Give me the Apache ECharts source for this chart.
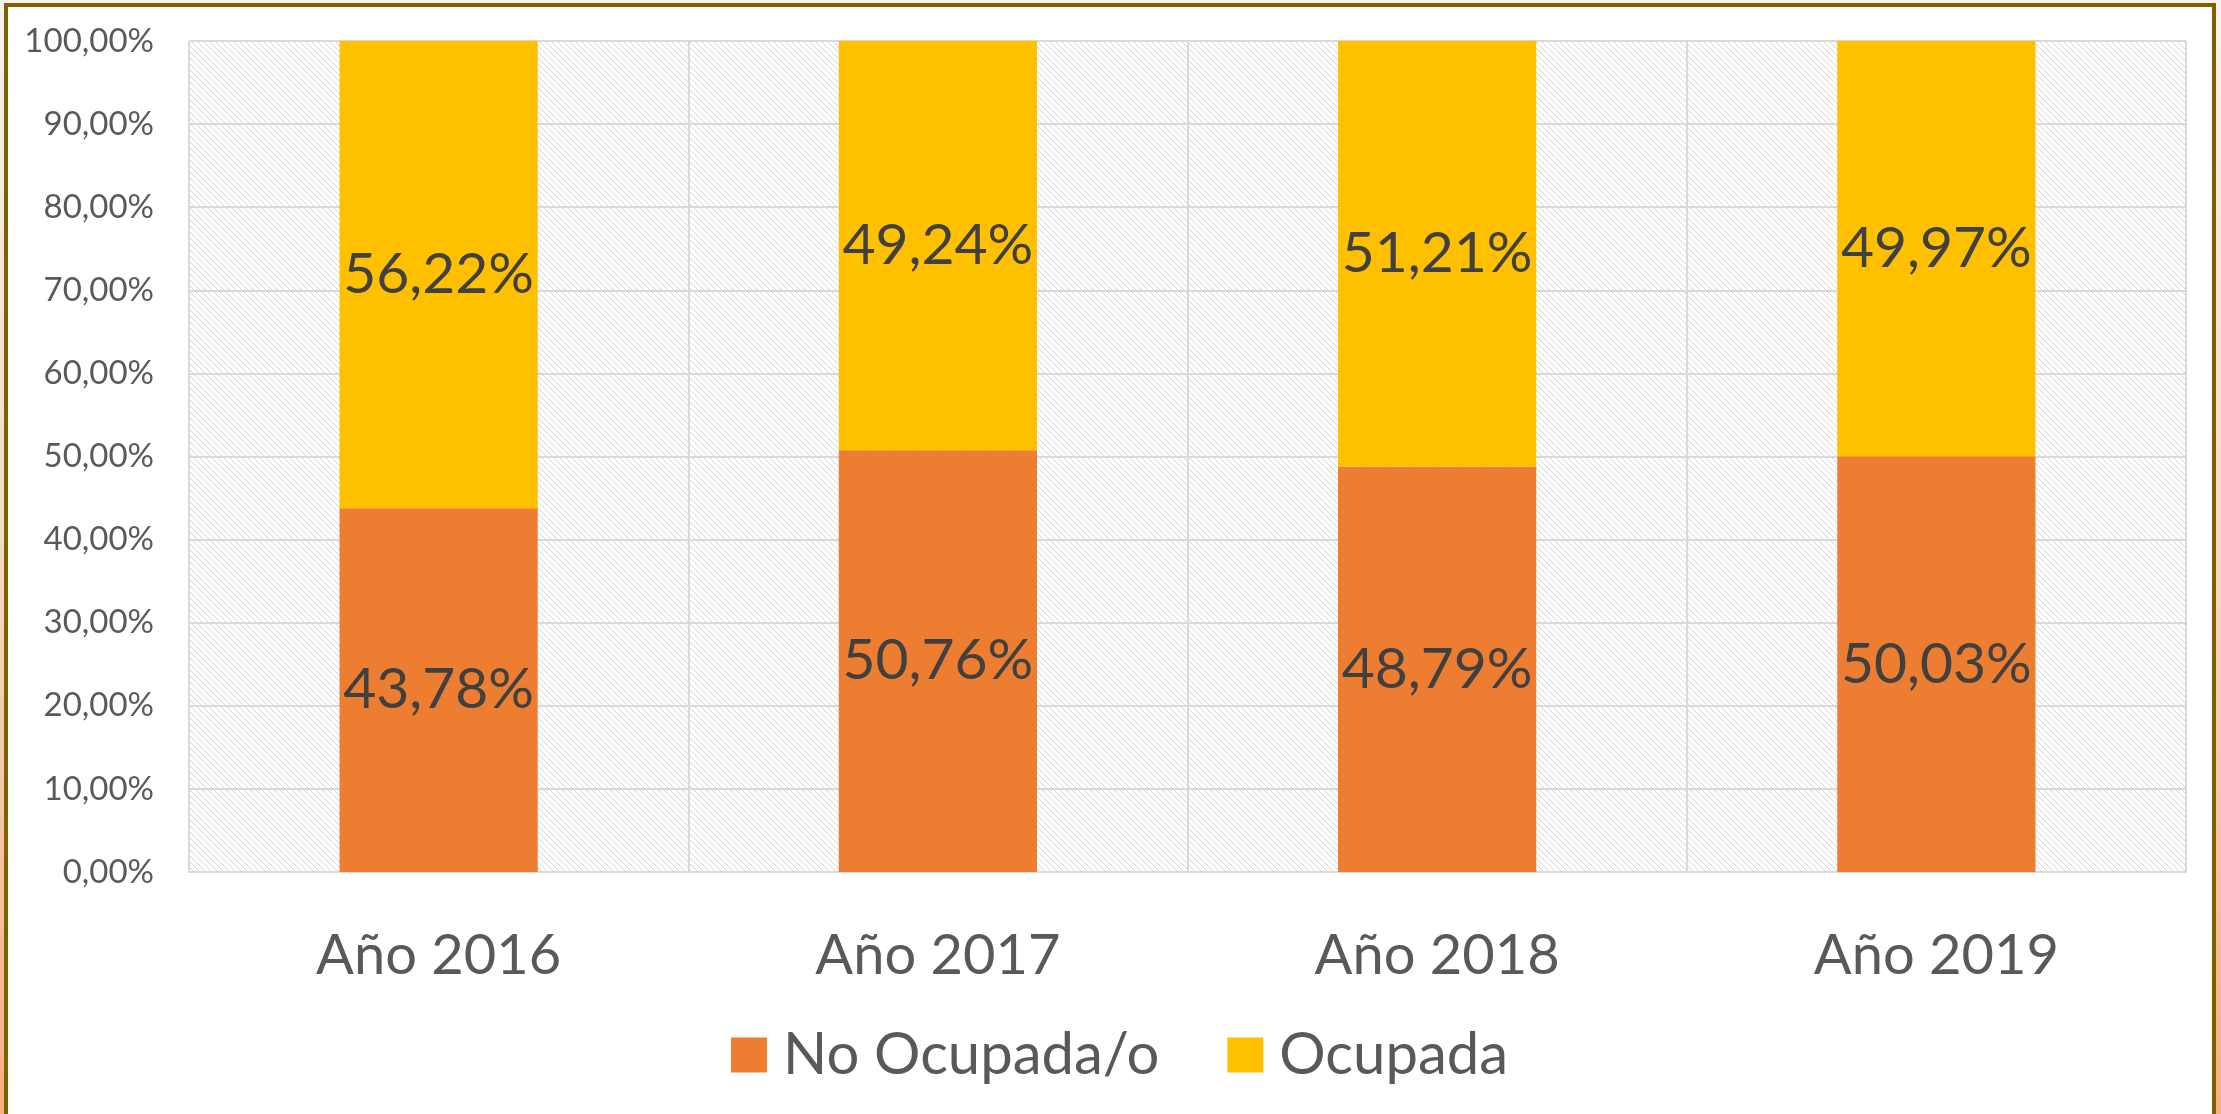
<!DOCTYPE html>
<html>
<head>
<meta charset="utf-8">
<script src="https://cdn.jsdelivr.net/npm/echarts@6/dist/echarts.min.js"></script>
<style>
  html, body { margin: 0; padding: 0; width: 2221px; height: 1114px; overflow: hidden;
    background: linear-gradient(to bottom, #f8f2ee 0%, #f6d9c2 50%, #f4b183 100%); }
  #frame { position: absolute; left: 4px; top: 3px; width: 2212px; height: 1130px;
    box-sizing: border-box; border: 4px solid #7F6000; background: #ffffff; }
  #chart { position: absolute; left: 0; top: 0; width: 2221px; height: 1114px; }
</style>
</head>
<body>
<div id="frame"></div>
<div id="chart"></div>
<script>
// ---- data ----
const categories = ['Año 2016', 'Año 2017', 'Año 2018', 'Año 2019'];
const noOcupada = [43.78, 50.76, 48.79, 50.03];
const ocupada = [56.22, 49.24, 51.21, 49.97];
const seriesNames = ['No Ocupada/o', 'Ocupada'];

// ---- hatch pattern for plot background ----
function makeHatch() {
  const n = 6;
  const c = document.createElement('canvas');
  c.width = n; c.height = n;
  const ctx = c.getContext('2d');
  ctx.fillStyle = '#ffffff';
  ctx.fillRect(0, 0, n, n);
  for (let y = 0; y < n; y++) {
    for (let x = 0; x < n; x++) {
      const d = ((x - y) % n + n) % n;
      if (d === 0) { ctx.fillStyle = '#d4d4d4'; ctx.fillRect(x, y, 1, 1); }
      else if (d === 1 && (x + y) % 2 === 0) { ctx.fillStyle = '#e4e4e4'; ctx.fillRect(x, y, 1, 1); }
    }
  }
  return c;
}

const fmt = v => Number(v).toFixed(2).replace('.', ',') + '%';
const FONT = 'Lato';

const chart = echarts.init(document.getElementById('chart'), null, { renderer: 'canvas' });
chart.setOption({
  animation: false,
  backgroundColor: 'transparent',
  textStyle: { fontFamily: FONT },
  grid: {
    left: 189, right: 35, top: 41, bottom: 242,
    show: true,
    backgroundColor: { image: makeHatch(), repeat: 'repeat' },
    borderWidth: 0
  },
  legend: {
    data: seriesNames,
    left: 731,
    top: 1026,
    padding: 0,
    itemWidth: 36,
    itemHeight: 35,
    itemGap: 68,
    icon: 'rect',
    textStyle: { fontFamily: FONT, fontSize: 58, color: '#595959', padding: [0, 0, 0, 11] }
  },
  xAxis: {
    type: 'category',
    data: categories,
    axisLine: { show: true, lineStyle: { color: '#d9d9d9', width: 2 } },
    axisTick: { show: false },
    splitLine: { show: true, lineStyle: { color: '#d9d9d9', width: 2 } },
    axisLabel: { fontFamily: FONT, fontSize: 56, color: '#595959', margin: 56 }
  },
  yAxis: {
    type: 'value',
    min: 0, max: 100, interval: 10,
    axisLine: { show: false },
    axisTick: { show: false },
    splitLine: { show: true, lineStyle: { color: '#d9d9d9', width: 2 } },
    axisLabel: { fontFamily: FONT, fontSize: 33, color: '#595959', margin: 35, formatter: fmt }
  },
  series: [
    {
      name: seriesNames[0], type: 'bar', stack: 'total', barWidth: '39.7%',
      data: noOcupada,
      itemStyle: { color: '#ED7D31' },
      label: { show: true, position: 'inside', formatter: p => fmt(p.value),
               fontFamily: FONT, fontSize: 57, color: '#404040' }
    },
    {
      name: seriesNames[1], type: 'bar', stack: 'total', barWidth: '39.7%',
      data: ocupada,
      itemStyle: { color: '#FFC000' },
      label: { show: true, position: 'inside', formatter: p => fmt(p.value),
               fontFamily: FONT, fontSize: 57, color: '#404040' }
    }
  ]
});
</script>
</body>
</html>
